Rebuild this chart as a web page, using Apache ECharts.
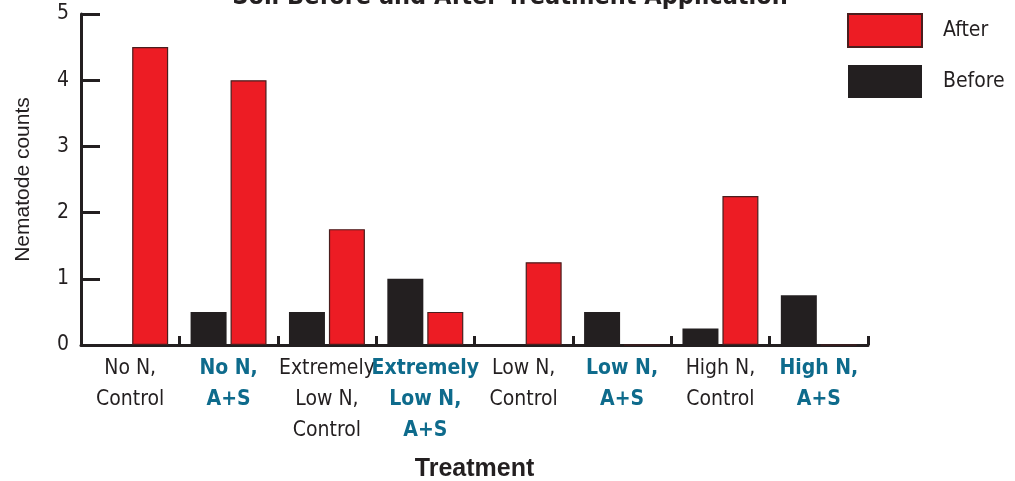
<!DOCTYPE html>
<html><head><meta charset="utf-8">
<script src="https://cdn.jsdelivr.net/npm/echarts@6/dist/echarts.min.js"></script>
<style>html,body{margin:0;padding:0;background:#fff}#c{width:1015px;height:481px}</style>
</head><body><div id="c"></div>
<script>
const categories = ["No N,\nControl","No N,\nA+S","Extremely\nLow N,\nControl","Extremely\nLow N,\nA+S","Low N,\nControl","Low N,\nA+S","High N,\nControl","High N,\nA+S"];
const before = [0, 0.5, 0.5, 1, 0, 0.5, 0.25, 0.75];
const after = [4.5, 4, 1.75, 0.5, 1.25, 0, 2.25, 0];
const yTicks = [0,1,2,3,4,5];
const FONT = '"DejaVu Sans Condensed","Liberation Sans Narrow",sans-serif';
const chart = echarts.init(document.getElementById('c'));
chart.setOption({
  animation:false,
  title:{text:'Soil Before and After Treatment Application',left:505,textAlign:'center',top:-20,
    textStyle:{fontFamily:FONT,fontWeight:'bold',fontSize:25,color:'#231f20'}},
  legend:{orient:'vertical',left:847,top:13,padding:0,itemWidth:74,itemHeight:33,itemGap:17,
    data:['After','Before'],icon:'rect',
    textStyle:{fontFamily:FONT,fontSize:21,color:'#231f20',padding:[0,0,0,16]}},
  grid:{left:81,right:147,top:14,bottom:136,outerBoundsMode:'none',containLabel:false},
  xAxis:{type:'category',data:categories,
    name:'Treatment',nameLocation:'middle',nameGap:112,
    nameTextStyle:{fontFamily:'"Liberation Sans",Arial,sans-serif',fontWeight:'bold',fontSize:25,color:'#231f20'},
    axisLine:{lineStyle:{color:'#231f20',width:3}},
    axisTick:{show:true,inside:true,length:9,lineStyle:{color:'#231f20',width:3}},
    axisLabel:{interval:0,margin:8,fontFamily:FONT,fontSize:21,lineHeight:31,
      formatter:(v,i)=> i%2===1 ? '{b|'+v.split('\n').join('}\n{b|')+'}' : '{a|'+v.split('\n').join('}\n{a|')+'}',
      rich:{a:{fontFamily:FONT,fontSize:21,lineHeight:31,color:'#231f20'},
            b:{fontFamily:FONT,fontSize:21,lineHeight:31,color:'#0e6b8c',fontWeight:'bold'}}}
  },
  yAxis:{type:'value',min:0,max:5,interval:1,
    name:'Nematode counts',nameLocation:'middle',nameGap:47,nameRotate:90,
    nameTextStyle:{fontFamily:'"Liberation Sans",Arial,sans-serif',fontSize:21,color:'#231f20'},
    axisLine:{show:true,lineStyle:{color:'#231f20',width:3}},
    axisTick:{show:true,inside:true,length:19,lineStyle:{color:'#231f20',width:3}},
    splitLine:{show:false},
    axisLabel:{margin:12,fontFamily:FONT,fontSize:21,color:'#231f20',
      formatter:v=> yTicks.includes(v)? String(v):''}
  },
  series:[
    {name:'Before',type:'bar',data:before,barWidth:36,barGap:'11%',
      itemStyle:{color:'#231f20'}},
    {name:'After',type:'bar',data:after,barWidth:36,
      itemStyle:{color:'#ed1c24',borderColor:'#4a1e1e',borderWidth:1.2}}
  ]
});
</script></body></html>
